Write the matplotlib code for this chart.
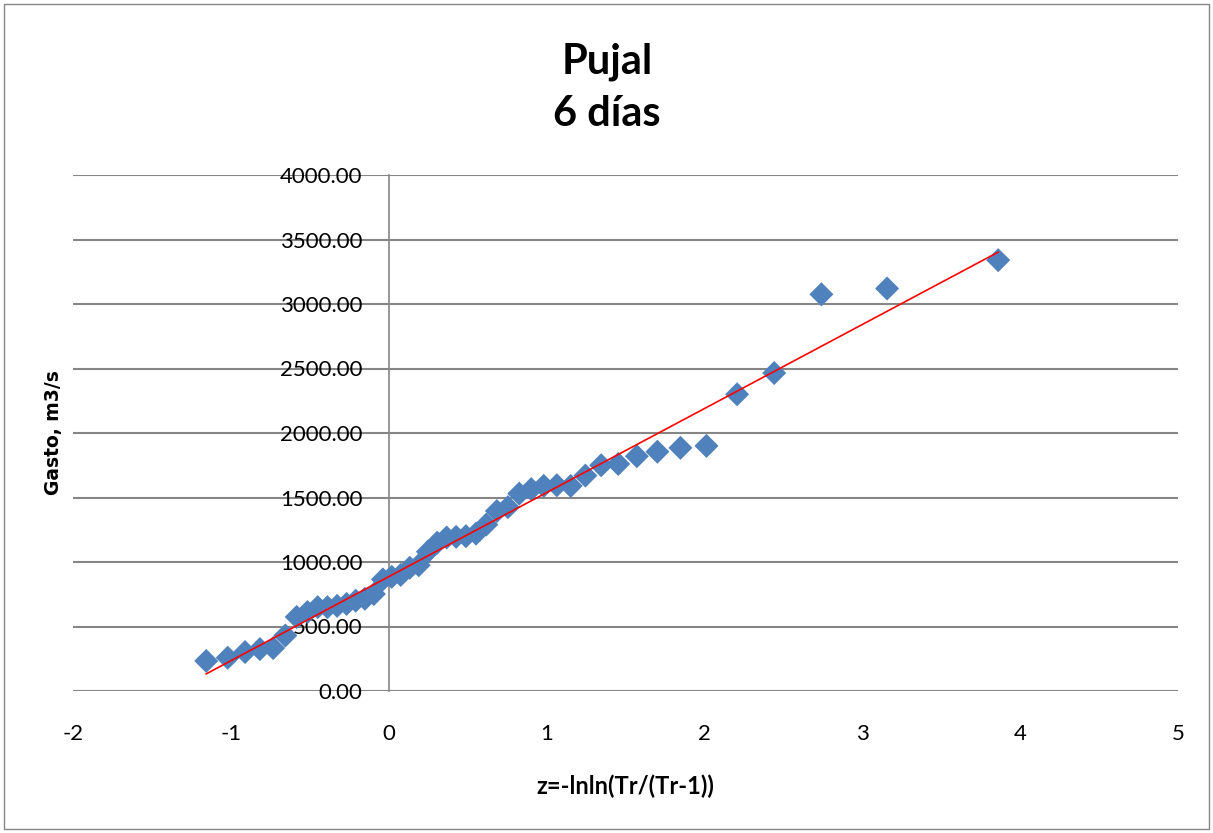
import numpy as np
import matplotlib.pyplot as plt
from matplotlib.patches import Rectangle

plt.rcParams['font.family'] = ['Lato', 'DejaVu Sans']
plt.rcParams['axes.unicode_minus'] = False

# variable reducida de Gumbel z=-lnln(Tr/(Tr-1))
z = [3.861, 3.157, 2.741, 2.442, 2.207, 2.013, 1.848, 1.702, 1.572, 1.454,
     1.346, 1.246, 1.153, 1.065, 0.982, 0.903, 0.827, 0.755, 0.685, 0.618,
     0.553, 0.489, 0.427, 0.367, 0.307, 0.248, 0.190, 0.133, 0.076, 0.019,
     -0.037, -0.094, -0.151, -0.209, -0.267, -0.327, -0.388, -0.450, -0.515, -0.583,
     -0.655, -0.732, -0.816, -0.910, -1.020, -1.156]

# gasto maximo, m3/s
gasto = [3340, 3120, 3075, 2465, 2300, 1900, 1885, 1855, 1820, 1760,
         1750, 1670, 1590, 1595, 1590, 1565, 1530, 1425, 1395, 1290,
         1220, 1200, 1195, 1190, 1150, 1080, 975, 955, 900, 885,
         865, 752, 715, 700, 675, 660, 650, 650, 612, 574,
         430, 333, 325, 302, 258, 233]

yticks = [0, 500, 1000, 1500, 2000, 2500, 3000, 3500, 4000]
xticks = [-2, -1, 0, 1, 2, 3, 4, 5]

fig = plt.figure(figsize=(12.13, 8.33), dpi=100)
ax = fig.add_axes([73/1213, 1-691/833, (1178-73)/1213, (691-175)/833])

ax.scatter(z, gasto, marker='D', s=150, color='#4F81BD', edgecolors='none', zorder=3)

# linea de tendencia (minimos cuadrados)
p = np.polyfit(z, gasto, 1)
xx = np.array([min(z), max(z)])
ax.plot(xx, np.polyval(p, xx), color='red', lw=1.2, zorder=4)

ax.set_xlim(-2, 5)
ax.set_ylim(0, 4000)
ax.set_xticks(xticks)
ax.set_yticks(yticks)
ax.set_yticklabels(['%.2f' % v for v in yticks])
ax.grid(axis='y', color='#868686', lw=1.5)
ax.set_axisbelow(True)

for s in ['top', 'right', 'bottom']:
    ax.spines[s].set_visible(False)
ax.spines['left'].set_position(('data', 0))
ax.spines['left'].set_color('#868686')
ax.spines['left'].set_linewidth(1.2)
ax.tick_params(axis='y', length=0, pad=19, labelsize=16)
ax.tick_params(axis='x', length=0, pad=24, labelsize=16)

ax.set_xlabel('z=-lnln(Tr/(Tr-1))', fontsize=17, fontweight='bold', labelpad=22)
fig.text(54/1213, 1-433/833, 'Gasto, m3/s', rotation=90, fontsize=13.5,
         fontweight='bold', ha='center', va='center', family='DejaVu Sans')
fig.text(607/1213, 1-88/833, 'Pujal\n6 días', fontsize=30, fontweight='bold',
         ha='center', va='center', linespacing=1.45)

fig.add_artist(Rectangle((4/1213, 4/833), 1-8/1213, 1-8/833, transform=fig.transFigure,
                         fill=False, edgecolor='#868686', lw=1))

fig.savefig('out.png', dpi=100)
